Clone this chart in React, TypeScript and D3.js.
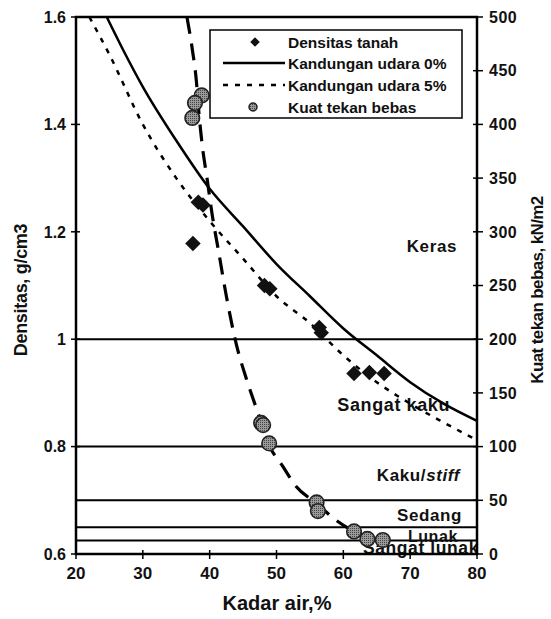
import React, { useEffect, useRef } from "react"
import * as d3 from "d3"

// densitas tanah (kadar air %, g/cm3)
const densWater = [37.5, 38.3, 39.0, 48.2, 49.0, 56.4, 56.7, 61.6, 63.9, 66.1]
const densValue = [1.178, 1.255, 1.25, 1.10, 1.094, 1.022, 1.012, 0.936, 0.938, 0.936]

// kuat tekan bebas (kadar air %, kN/m2)
const ucsWater = [38.8, 37.8, 37.4, 47.7, 48.0, 48.9, 56.0, 56.2, 61.6, 63.6, 65.9]
const ucsValue = [427, 420, 406, 122, 120, 103, 48, 40, 21, 14, 13]

// fitted curve through the strength points
const fitWater = [36.6, 37.4, 38.0, 38.4, 38.9, 39.6, 40.4, 41.3, 42.5, 44, 45.5, 47.2, 49, 50.9, 52.8, 56, 59, 61.6, 64, 66]
const fitValue = [500, 470, 441, 410, 380, 350, 315, 283, 240, 195, 163, 132, 100, 82, 64, 47, 31, 21, 15, 12]

// kandungan udara 0% and 5%
const zavWater = [24.6, 27, 30, 35, 40, 45, 50, 55, 60, 65, 70, 75, 80]
const zavValue = [1.6, 1.54, 1.47, 1.37, 1.28, 1.21, 1.14, 1.08, 1.02, 0.97, 0.92, 0.88, 0.848]
const air5Water = [22, 25, 30, 35, 40, 45, 50, 55, 60, 65, 70, 75, 80]
const air5Value = [1.6, 1.53, 1.40, 1.30, 1.22, 1.15, 1.08, 1.03, 0.97, 0.92, 0.88, 0.845, 0.812]

// consistency classes (kN/m2 boundaries)
const classLimits = [200, 100, 50, 25, 12.5]
const classNames = ["Keras", "Sangat kaku", "Kaku/", "Sedang", "Lunak", "Sangat lunak"]
const classLevels = [287, 139, 74, 36, 17, 6]

const xTicks = [20, 30, 40, 50, 60, 70, 80]
const leftTicks = [0.6, 0.8, 1.0, 1.2, 1.4, 1.6]
const rightTicks = [0, 50, 100, 150, 200, 250, 300, 350, 400, 450, 500]

const legendLabels = ["Densitas tanah", "Kandungan udara 0%", "Kandungan udara 5%", "Kuat tekan bebas"]

const W = 551
const H = 619
const FONT = "'Liberation Sans', Arial, sans-serif"

const App = () => {
  const ref = useRef<SVGSVGElement>(null)

  useEffect(() => {
    const svg = d3.select(ref.current)
    svg.selectAll("*").remove()

    const left = 76, right = 477, top = 17, bottom = 554
    const x = d3.scaleLinear().domain([20, 80]).range([left, right])
    const yD = d3.scaleLinear().domain([0.6, 1.6]).range([bottom, top])
    const yS = d3.scaleLinear().domain([0, 500]).range([bottom, top])

    svg.append("rect").attr("width", W).attr("height", H).attr("fill", "#fff")

    const defs = svg.append("defs")
    const pat = defs.append("pattern").attr("id", "dots").attr("width", 2).attr("height", 2)
      .attr("patternUnits", "userSpaceOnUse")
    pat.append("rect").attr("width", 2).attr("height", 2).attr("fill", "#9a9a9a")
    pat.append("rect").attr("width", 1).attr("height", 1).attr("fill", "#444")
    const clip = defs.append("clipPath").attr("id", "plot")
    clip.append("rect").attr("x", left).attr("y", top).attr("width", right - left).attr("height", bottom - top)

    // class boundaries
    svg.append("g").selectAll("line").data(classLimits).join("line")
      .attr("x1", left).attr("x2", right)
      .attr("y1", (d) => yS(d)).attr("y2", (d) => yS(d))
      .attr("stroke", "#000").attr("stroke-width", 2)

    // class labels
    const lab = svg.append("g").attr("font-family", FONT).attr("font-weight", "bold")
      .attr("text-anchor", "end").attr("fill", "#111")
    const labelRight = [457, 450, 460, 462, 458, 479]
    const labelSize = [17, 18, 17, 17, 16, 17.5]
    classNames.forEach((name, i) => {
      const t = lab.append("text").attr("x", labelRight[i])
        .attr("y", yS(classLevels[i])).attr("dy", "0.36em")
        .attr("font-size", labelSize[i]).attr("letter-spacing", 0.6)
      t.append("tspan").text(name)
      if (name === "Kaku/") t.append("tspan").attr("font-style", "italic").text("stiff")
    })

    const g = svg.append("g").attr("clip-path", "url(#plot)")

    // air content lines
    const lineD = (xs: number[], ys: number[]) =>
      d3.line<number>().x((d) => x(xs[d])).y((d) => yD(ys[d])).curve(d3.curveMonotoneX)(xs.map((_, i) => i))
    g.append("path").attr("d", lineD(zavWater, zavValue)).attr("fill", "none")
      .attr("stroke", "#000").attr("stroke-width", 2.5)
    g.append("path").attr("d", lineD(air5Water, air5Value)).attr("fill", "none")
      .attr("stroke", "#000").attr("stroke-width", 2.5).attr("stroke-dasharray", "5,7")

    // strength curve
    const lineS = d3.line<number>().x((d) => x(fitWater[d])).y((d) => yS(fitValue[d])).curve(d3.curveMonotoneX)
    g.append("path").attr("d", lineS(fitWater.map((_, i) => i))).attr("fill", "none")
      .attr("stroke", "#000").attr("stroke-width", 3.2).attr("stroke-dasharray", "17,10")

    // density diamonds
    const diamond = d3.symbol().type(d3.symbolSquare).size(120)
    g.append("g").selectAll("path").data(densWater).join("path")
      .attr("d", diamond)
      .attr("transform", (d, i) => `translate(${x(d)},${yD(densValue[i])}) rotate(45)`)
      .attr("fill", "#111")

    // strength circles
    g.append("g").selectAll("circle").data(ucsWater).join("circle")
      .attr("cx", (d) => x(d)).attr("cy", (d, i) => yS(ucsValue[i])).attr("r", 7.3)
      .attr("fill", "url(#dots)").attr("stroke", "#222").attr("stroke-width", 1.6)

    // frame
    svg.append("rect").attr("x", left).attr("y", top).attr("width", right - left).attr("height", bottom - top)
      .attr("fill", "none").attr("stroke", "#000").attr("stroke-width", 2.5)

    const ax = svg.append("g").attr("font-family", FONT).attr("font-weight", "bold").attr("font-size", 16)
      .attr("fill", "#111")

    // left axis
    ax.append("g").selectAll("line").data(leftTicks).join("line")
      .attr("x1", left - 5).attr("x2", left + 4).attr("y1", (d) => yD(d)).attr("y2", (d) => yD(d))
      .attr("stroke", "#000").attr("stroke-width", 1.5)
    ax.append("g").selectAll("text").data(leftTicks).join("text")
      .attr("x", left - 10).attr("y", (d) => yD(d)).attr("dy", "0.36em").attr("text-anchor", "end")
      .text((d) => String(+d.toFixed(1)))

    // right axis
    ax.append("g").selectAll("line").data(rightTicks).join("line")
      .attr("x1", right - 4).attr("x2", right + 6).attr("y1", (d) => yS(d)).attr("y2", (d) => yS(d))
      .attr("stroke", "#000").attr("stroke-width", 1.5)
    ax.append("g").selectAll("text").data(rightTicks).join("text")
      .attr("x", right + 12).attr("y", (d) => yS(d)).attr("dy", "0.36em").attr("letter-spacing", 0.5)
      .text((d) => d)

    // bottom axis
    ax.append("g").selectAll("line").data(xTicks).join("line")
      .attr("x1", (d) => x(d)).attr("x2", (d) => x(d)).attr("y1", bottom - 4).attr("y2", bottom + 5)
      .attr("stroke", "#000").attr("stroke-width", 1.5)
    ax.append("g").selectAll("text").data(xTicks).join("text")
      .attr("x", (d) => x(d)).attr("y", bottom + 25).attr("text-anchor", "middle").attr("font-size", 17)
      .text((d) => d)

    // axis titles
    ax.append("text").attr("x", 277).attr("y", 610).attr("text-anchor", "middle").attr("font-size", 20)
      .text("Kadar air,%")
    ax.append("text").attr("transform", "translate(27,290) rotate(-90)").attr("text-anchor", "middle")
      .attr("font-size", 18).attr("letter-spacing", -0.3).text("Densitas, g/cm3")
    ax.append("text").attr("transform", "translate(543,290) rotate(-90)").attr("text-anchor", "middle")
      .attr("font-size", 17).attr("letter-spacing", -0.6).text("Kuat tekan bebas, kN/m2")

    // legend
    const lg = svg.append("g")
    lg.append("rect").attr("x", 210).attr("y", 30).attr("width", 252).attr("height", 88)
      .attr("fill", "#fff").attr("stroke", "#000").attr("stroke-width", 1.5)
    const rows = [42, 63, 85, 107]
    lg.selectAll("text").data(legendLabels).join("text")
      .attr("x", 288).attr("y", (d, i) => rows[i]).attr("dy", "0.36em")
      .attr("font-family", FONT).attr("font-weight", "bold").attr("font-size", 15.5).attr("fill", "#111")
      .text((d) => d)
    lg.append("path").attr("d", d3.symbol().type(d3.symbolSquare).size(45)())
      .attr("transform", `translate(255,${rows[0]}) rotate(45)`).attr("fill", "#111")
    lg.append("line").attr("x1", 223).attr("x2", 285).attr("y1", rows[1]).attr("y2", rows[1])
      .attr("stroke", "#000").attr("stroke-width", 2.5)
    lg.append("line").attr("x1", 223).attr("x2", 285).attr("y1", rows[2]).attr("y2", rows[2])
      .attr("stroke", "#000").attr("stroke-width", 2.5).attr("stroke-dasharray", "5,7")
    lg.append("circle").attr("cx", 253).attr("cy", rows[3]).attr("r", 4)
      .attr("fill", "url(#dots)").attr("stroke", "#222").attr("stroke-width", 1.5)
  }, [])

  return (
    <div style={{ position: "absolute", left: 0, top: 0 }}>
      <svg ref={ref} width={W} height={H}></svg>
    </div>
  )
}

export default App
